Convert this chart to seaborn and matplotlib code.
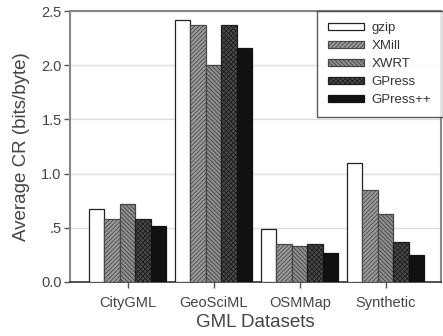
import pandas as pd
import matplotlib
matplotlib.use("Agg")
import matplotlib.pyplot as plt
import seaborn as sns

# data
datasets = ["CityGML", "GeoSciML", "OSMMap", "Synthetic"]
methods = ["gzip", "XMill", "XWRT", "GPress", "GPress++"]
gzip_cr = [0.67, 2.42, 0.49, 1.10]
xmill_cr = [0.58, 2.37, 0.35, 0.85]
xwrt_cr = [0.72, 2.00, 0.33, 0.63]
gpress_cr = [0.58, 2.37, 0.35, 0.37]
gpresspp_cr = [0.52, 2.16, 0.27, 0.25]

rows = []
for m, vals in zip(methods, [gzip_cr, xmill_cr, xwrt_cr, gpress_cr, gpresspp_cr]):
    for d, v in zip(datasets, vals):
        rows.append({"dataset": d, "method": m, "cr": v})
df = pd.DataFrame(rows)

sns.set_style("white")
plt.rcParams["font.family"] = ["Liberation Sans", "DejaVu Sans"]
plt.rcParams["hatch.linewidth"] = 0.6

fig = plt.figure(figsize=(4.43, 3.36), dpi=100)
ax = fig.add_axes([0.158, 0.161, 0.837, 0.806])

faces = ["white", "#9a9a9a", "#8e8e8e", "#4a4a4a", "#111111"]
hatches = ["", "////////", "\\\\\\\\\\\\\\\\", "xxxxxxx", ""]
edge_cols = ["#222222", "#4a4a4a", "#454545", "#1e1e1e", "#111111"]

sns.barplot(data=df, x="dataset", y="cr", hue="method", hue_order=methods,
            order=datasets, palette=faces, width=0.9, saturation=1,
            edgecolor="black", linewidth=0.9, ax=ax, zorder=3)

for cont, ec, h in zip(ax.containers, edge_cols, hatches):
    for bar in cont:
        bar.set_hatch(h)
        bar.set_edgecolor(ec)

ax.set_ylim(0, 2.5)
ax.set_xlim(-0.67, 3.64)
ax.set_yticks([0, 0.5, 1.0, 1.5, 2.0, 2.5])
ax.set_yticklabels(["0.0", ".5", "1.0", "1.5", "2.0", "2.5"])
ax.yaxis.grid(True, color="#dddddd", linewidth=1, zorder=0)
ax.set_axisbelow(True)

for s in ["left", "top", "right"]:
    ax.spines[s].set_color("#888888")
    ax.spines[s].set_linewidth(1.5)
ax.spines["bottom"].set_color("#333333")
ax.spines["bottom"].set_linewidth(1.2)

ax.tick_params(axis="both", colors="#555555", labelcolor="#444444", labelsize=10.5,
               length=4, width=1, direction="out")
ax.tick_params(axis="y", left=True, pad=2)
ax.tick_params(axis="x", bottom=True, pad=6)

ax.set_xlabel("GML Datasets", fontsize=13.5, color="#444444", labelpad=3)
ax.set_ylabel("Average CR (bits/byte)", fontsize=13.5, color="#444444", labelpad=8)

leg = ax.legend(loc="upper right", bbox_to_anchor=(1.005, 1.0), fontsize=9.5,
                frameon=True, fancybox=False, edgecolor="#333333",
                handlelength=2.7, handleheight=0.5, labelspacing=0.45,
                borderaxespad=0.0, borderpad=0.85, handletextpad=0.6)
leg.get_frame().set_linewidth(1.0)
for h, hat, ec in zip(leg.legend_handles, hatches, edge_cols):
    h.set_hatch(hat)
    h.set_edgecolor(ec)
for t in leg.get_texts():
    t.set_color("#333333")

fig.savefig("out.png", dpi=100)
